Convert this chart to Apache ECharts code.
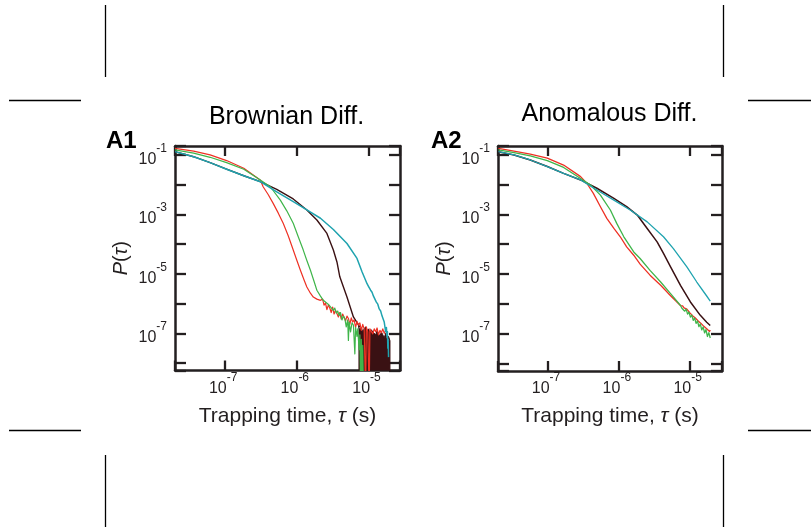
<!DOCTYPE html>
<html><head><meta charset="utf-8">
<script src="https://cdn.jsdelivr.net/npm/echarts@6/dist/echarts.min.js"></script>
<style>html,body{margin:0;padding:0;background:#fff}#c{width:811px;height:527px}</style>
</head><body><div id="c"></div>
<script>
// x = log10(trapping time / s), y = log10(P(tau))
const panelTitles = ['Brownian Diff.', 'Anomalous Diff.'];
const panelLetters = ['A1', 'A2'];
const xTickExps = [-7, -6, -5];
const yLabelExps = [-1, -3, -5, -7];

// ---- Panel A1 (Brownian) ----
const a1Red = [[-7.70,-0.78],[-7.44,-0.87],[-7.21,-1.00],[-6.98,-1.19],[-6.74,-1.45],[-6.51,-1.84],[-6.47,-2.07],[-6.40,-2.33],[-6.33,-2.63],[-6.26,-2.95],[-6.19,-3.30],[-6.12,-3.72],[-6.05,-4.20],[-6.00,-4.54],[-5.95,-4.88],[-5.90,-5.20],[-5.86,-5.44],[-5.81,-5.65],[-5.77,-5.78],[-5.72,-5.85],[-5.67,-5.89],
  [-5.66,-5.92],[-5.64,-5.85],[-5.62,-6.05],[-5.60,-5.98],[-5.58,-6.20],[-5.56,-6.05],[-5.54,-6.15],[-5.52,-6.30],[-5.50,-6.12],[-5.48,-6.35],[-5.46,-6.22],[-5.44,-6.28],[-5.42,-6.45],[-5.40,-6.30],[-5.38,-6.52],[-5.36,-6.35],[-5.34,-6.40],[-5.32,-6.58],[-5.30,-6.42],[-5.28,-6.50],[-5.26,-6.70],[-5.24,-6.48],[-5.22,-6.62],[-5.20,-6.55],[-5.18,-6.80],[-5.16,-6.60],[-5.14,-6.72],[-5.12,-6.65],[-5.10,-6.90],[-5.08,-6.70],[-5.06,-6.85],[-5.04,-9],[-5.03,-6.78],[-5.01,-6.95],[-4.99,-9],[-4.98,-6.85],[-4.96,-6.80],[-4.94,-7.02],[-4.92,-6.85],[-4.90,-6.95],[-4.88,-6.82],[-4.86,-7.05],[-4.84,-6.90],[-4.82,-6.98],[-4.80,-6.85],[-4.78,-7.00],[-4.76,-6.90],[-4.74,-6.95]];
const a1Green = [[-7.70,-0.83],[-7.44,-0.94],[-7.21,-1.08],[-6.98,-1.26],[-6.74,-1.48],[-6.51,-1.84],[-6.37,-2.07],[-6.23,-2.52],[-6.14,-2.88],[-6.05,-3.30],[-5.98,-3.75],[-5.91,-4.20],[-5.86,-4.55],[-5.81,-4.88],[-5.76,-5.25],[-5.72,-5.55],[-5.67,-5.75],[-5.63,-5.89],[-5.55,-6.05],[-5.49,-6.23],
  [-5.47,-6.15],[-5.45,-6.32],[-5.43,-6.25],[-5.41,-6.40],[-5.39,-6.30],[-5.37,-6.55],[-5.35,-6.42],[-5.33,-6.50],[-5.31,-6.78],[-5.29,-6.55],[-5.28,-7.24],[-5.27,-6.62],[-5.25,-6.95],[-5.23,-6.65],[-5.21,-6.72],[-5.19,-7.69],[-5.18,-6.80],[-5.16,-7.10],[-5.15,-6.85],[-5.13,-7.55],[-5.12,-7.05],[-5.11,-9],[-5.10,-7.20],[-5.09,-9],[-5.08,-7.40],[-5.07,-9]];
const a1Brown = [[-7.70,-0.89],[-7.44,-1.06],[-7.21,-1.26],[-6.98,-1.48],[-6.74,-1.70],[-6.51,-1.90],[-6.28,-2.16],[-6.05,-2.48],[-5.86,-2.85],[-5.72,-3.19],[-5.58,-3.64],[-5.49,-4.20],[-5.44,-4.60],[-5.40,-5.10],[-5.30,-5.78],[-5.21,-6.45],[-5.12,-6.79]];
const a1BrownTail = [[-5.14,-6.75],[-5.12,-6.90],[-5.10,-6.80],[-5.08,-6.95],[-5.06,-6.85],[-5.04,-6.78],[-5.02,-6.92],[-5.00,-6.85],[-4.98,-6.98],[-4.96,-6.88],[-4.94,-6.95],[-4.92,-6.90],[-4.90,-7.05],[-4.88,-6.92],[-4.86,-7.00],[-4.84,-7.10],[-4.82,-6.95],[-4.80,-7.05],[-4.78,-7.15],[-4.76,-7.00],[-4.74,-7.20],[-4.72,-7.10],[-4.70,-7.25],[-4.70,-9]];
const a1Teal = [[-7.70,-0.89],[-7.44,-1.06],[-7.21,-1.26],[-6.98,-1.48],[-6.74,-1.70],[-6.51,-1.90],[-6.28,-2.24],[-6.05,-2.57],[-5.86,-2.85],[-5.67,-3.13],[-5.49,-3.51],[-5.30,-3.98],[-5.16,-4.48],[-5.09,-4.93],[-5.02,-5.33],[-5.00,-5.42],[-4.99,-5.40],[-4.97,-5.55],[-4.95,-5.62],[-4.93,-5.75],[-4.91,-5.78],[-4.89,-5.95],[-4.87,-6.02],[-4.85,-6.18],[-4.83,-6.25],[-4.81,-6.42],[-4.79,-6.55],[-4.78,-6.62],[-4.76,-6.95],[-4.75,-6.80],[-4.74,-7.15],[-4.735,-6.95],[-4.73,-7.50],[-4.725,-7.20],[-4.72,-7.80]];

// ---- Panel A2 (Anomalous) ----
const a2Red = [[-7.70,-0.78],[-7.48,-0.87],[-7.25,-0.97],[-7.01,-1.11],[-6.78,-1.34],[-6.54,-1.73],[-6.45,-1.96],[-6.36,-2.29],[-6.26,-2.74],[-6.17,-3.13],[-6.07,-3.47],[-5.98,-3.75],[-5.89,-4.09],[-5.79,-4.37],[-5.70,-4.67],[-5.56,-5.04],[-5.41,-5.38],[-5.27,-5.73],[-5.13,-6.06],
  [-5.10,-6.07],[-5.08,-6.14],[-5.06,-6.10],[-5.04,-6.18],[-5.02,-6.20],[-5.00,-6.30],[-4.98,-6.30],[-4.96,-6.40],[-4.94,-6.38],[-4.92,-6.48],[-4.90,-6.47],[-4.88,-6.58],[-4.86,-6.56],[-4.84,-6.66],[-4.82,-6.65],[-4.80,-6.76],[-4.78,-6.74],[-4.76,-6.84],[-4.74,-6.82],[-4.72,-6.93],[-4.71,-6.88]];
const a2Green = [[-7.70,-0.83],[-7.48,-0.92],[-7.25,-1.03],[-7.01,-1.19],[-6.78,-1.42],[-6.54,-1.79],[-6.40,-2.01],[-6.26,-2.35],[-6.12,-2.85],[-6.03,-3.30],[-5.93,-3.75],[-5.79,-4.26],[-5.70,-4.48],[-5.56,-4.88],[-5.41,-5.27],[-5.27,-5.66],[-5.13,-6.06],
  [-5.11,-6.15],[-5.09,-6.10],[-5.07,-6.25],[-5.05,-6.18],[-5.03,-6.35],[-5.01,-6.28],[-4.99,-6.45],[-4.97,-6.38],[-4.95,-6.56],[-4.93,-6.48],[-4.91,-6.66],[-4.89,-6.58],[-4.87,-6.77],[-4.85,-6.68],[-4.83,-6.88],[-4.81,-6.78],[-4.79,-6.98],[-4.77,-6.87],[-4.75,-7.10],[-4.73,-6.97],[-4.71,-7.15]];
const a2Brown = [[-7.70,-0.89],[-7.48,-1.00],[-7.25,-1.17],[-7.01,-1.39],[-6.78,-1.62],[-6.54,-1.84],[-6.31,-2.12],[-6.07,-2.46],[-5.89,-2.74],[-5.74,-3.02],[-5.60,-3.47],[-5.46,-3.92],[-5.37,-4.31],[-5.27,-4.76],[-5.13,-5.38],[-4.99,-5.94],[-4.85,-6.39],[-4.76,-6.62],[-4.71,-6.73]];
const a2Teal = [[-7.70,-0.89],[-7.48,-1.00],[-7.25,-1.17],[-7.01,-1.39],[-6.78,-1.62],[-6.54,-1.84],[-6.31,-2.18],[-6.07,-2.52],[-5.84,-2.85],[-5.60,-3.25],[-5.37,-3.75],[-5.23,-4.15],[-5.04,-4.76],[-4.90,-5.27],[-4.76,-5.74],[-4.71,-5.91]];

const INK = '#231f20';
const RED = '#ee3124', GREEN = '#3fb54a', BROWN = '#3a1113', TEAL = '#1fa3af';
const FONT = "'Liberation Sans Narrow', 'Liberation Sans', Arial, sans-serif";
const FONT_R = "'Liberation Sans', Arial, sans-serif";

function isInt(v) { return Math.abs(v - Math.round(v)) < 1e-6; }

function xAxisDef(grid, min, max, pos, withLabels) {
  return {
    type: 'value', gridIndex: grid, min: min, max: max, position: pos,
    minInterval: 1, maxInterval: 1,
    axisLine: { show: true, onZero: false, lineStyle: { color: INK, width: 2.5 } },
    axisTick: { show: true, inside: true, length: 10, lineStyle: { color: INK, width: 2.3 } },
    splitLine: { show: false },
    axisLabel: withLabels ? {
      margin: 6, color: INK,
      formatter: function (v) {
        const r = Math.round(v);
        if (!isInt(v) || xTickExps.indexOf(r) < 0) return '';
        return '{b|10}{s|' + r + '}';
      },
      rich: {
        b: { fontSize: 16, lineHeight: 15, padding: [9, 0, 0, 0], fontFamily: FONT, color: INK },
        s: { fontSize: 12, lineHeight: 11, padding: [0, 4, 13, 0], fontFamily: FONT, color: INK }
      }
    } : { show: false },
    name: withLabels ? 'Trapping time, {i|τ} (s)' : '',
    nameLocation: 'middle', nameGap: 35,
    nameTextStyle: { fontSize: 21, fontFamily: FONT_R, color: INK,
      rich: { i: { fontSize: 21, fontStyle: 'italic', fontFamily: FONT_R, color: INK } } }
  };
}
function yAxisDef(grid, min, max, pos, withLabels) {
  return {
    type: 'value', gridIndex: grid, min: min, max: max, position: pos,
    minInterval: 1, maxInterval: 1,
    axisLine: { show: true, onZero: false, lineStyle: { color: INK, width: 2.5 } },
    axisTick: { show: true, inside: true, length: 11, lineStyle: { color: INK, width: 2.3 } },
    splitLine: { show: false },
    axisLabel: withLabels ? {
      margin: 8, color: INK,
      formatter: function (v) {
        const r = Math.round(v);
        if (!isInt(v) || yLabelExps.indexOf(r) < 0) return '';
        return '{b|10}{s|' + r + '}';
      },
      rich: {
        b: { fontSize: 16, lineHeight: 15, padding: [9, 0, 0, 0], fontFamily: FONT, color: INK },
        s: { fontSize: 12, lineHeight: 11, padding: [0, 0, 13, 0], fontFamily: FONT, color: INK }
      }
    } : { show: false },
    name: withLabels ? '{i|P}({i|τ})' : '',
    nameLocation: 'middle', nameGap: 44, nameRotate: 90,
    nameTextStyle: { fontSize: 20, fontFamily: FONT_R, color: INK,
      rich: { i: { fontSize: 20, fontStyle: 'italic', fontFamily: FONT_R, color: INK } } }
  };
}

function lineSeries(data, color, xi, yi, width, extra) {
  return Object.assign({
    type: 'line', data: data, xAxisIndex: xi, yAxisIndex: yi,
    showSymbol: false, symbol: 'none', clip: true, animation: false,
    lineStyle: { color: color, width: width, join: 'round' }, itemStyle: { color: color }, z: 2
  }, extra || {});
}

const X1 = [-7.70, -4.56], Y1 = [-8.25, -0.70];
const X2 = [-7.706, -4.544], Y2 = [-8.26, -0.70];

function cropLine(x1, y1, x2, y2) {
  return { type: 'line', shape: { x1: x1, y1: y1, x2: x2, y2: y2 }, style: { stroke: '#000', lineWidth: 1.3 }, silent: true };
}

const option = {
  animation: false,
  backgroundColor: '#fff',
  grid: [
    { left: 175, top: 146, width: 225, height: 224.5 },
    { left: 498, top: 146, width: 224, height: 225 }
  ],
  xAxis: [
    xAxisDef(0, X1[0], X1[1], 'bottom', true),
    xAxisDef(0, X1[0], X1[1], 'top', false),
    xAxisDef(1, X2[0], X2[1], 'bottom', true),
    xAxisDef(1, X2[0], X2[1], 'top', false)
  ],
  yAxis: [
    yAxisDef(0, Y1[0], Y1[1], 'left', true),
    yAxisDef(0, Y1[0], Y1[1], 'right', false),
    yAxisDef(1, Y2[0], Y2[1], 'left', true),
    yAxisDef(1, Y2[0], Y2[1], 'right', false)
  ],
  series: [
    lineSeries(a1BrownTail, BROWN, 0, 0, 1, { areaStyle: { color: BROWN, opacity: 1, origin: 'start' }, z: 1 }),
    lineSeries(a1Brown, BROWN, 0, 0, 1.4),
    lineSeries(a1Red, RED, 0, 0, 1.2),
    lineSeries(a1Green, GREEN, 0, 0, 1.2),
    lineSeries(a1Teal, TEAL, 0, 0, 1.5),
    lineSeries(a2Brown, BROWN, 2, 2, 1.5),
    lineSeries(a2Red, RED, 2, 2, 1.3),
    lineSeries(a2Green, GREEN, 2, 2, 1.3),
    lineSeries(a2Teal, TEAL, 2, 2, 1.3)
  ],
  graphic: [
    { type: 'text', x: 286.5, y: 117, silent: true,
      style: { text: panelTitles[0], font: "25px 'Liberation Sans', Arial, sans-serif", fill: '#000', textAlign: 'center', textVerticalAlign: 'middle' } },
    { type: 'text', x: 609.5, y: 114, silent: true,
      style: { text: panelTitles[1], font: "25px 'Liberation Sans', Arial, sans-serif", fill: '#000', textAlign: 'center', textVerticalAlign: 'middle' } },
    { type: 'text', x: 106, y: 141.5, silent: true,
      style: { text: panelLetters[0], font: "bold 24px 'Liberation Sans', Arial, sans-serif", fill: '#000', textAlign: 'left', textVerticalAlign: 'middle' } },
    { type: 'text', x: 431, y: 141.5, silent: true,
      style: { text: panelLetters[1], font: "bold 24px 'Liberation Sans', Arial, sans-serif", fill: '#000', textAlign: 'left', textVerticalAlign: 'middle' } },
    cropLine(105.5, 5, 105.5, 77),
    cropLine(105.5, 455, 105.5, 527),
    cropLine(723.5, 5, 723.5, 77),
    cropLine(723.5, 455, 723.5, 527),
    cropLine(9, 100.5, 81, 100.5),
    cropLine(9, 430.5, 81, 430.5),
    cropLine(748, 100.5, 811, 100.5),
    cropLine(748, 430.5, 811, 430.5)
  ]
};

const chart = echarts.init(document.getElementById('c'), null, { renderer: 'canvas' });
chart.setOption(option);
</script></body></html>
